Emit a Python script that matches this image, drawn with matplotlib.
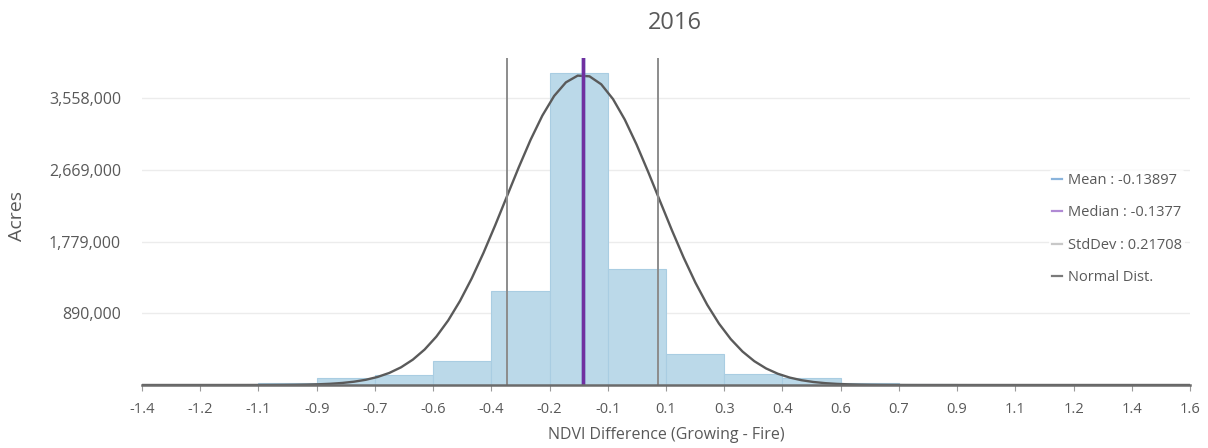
import numpy as np
import matplotlib.pyplot as plt
from matplotlib.lines import Line2D
from matplotlib.ticker import FuncFormatter

plt.rcParams['font.family'] = ['Open Sans', 'DejaVu Sans']

# histogram: 18 equal bins between -1.4 and 1.6
bin_lo, bin_hi, n_bins = -1.4, 1.6, 18
acres = [0, 0, 20000, 87000, 124000, 298000, 1170000, 3872000, 1440000,
         381000, 140000, 90000, 28000, 10000, 3000, 0, 0, 0]

xtick_labels = ['-1.4', '-1.2', '-1.1', '-0.9', '-0.7', '-0.6', '-0.4', '-0.2', '-0.1',
                '0.1', '0.3', '0.4', '0.6', '0.7', '0.9', '1.1', '1.2', '1.4', '1.6']
yticks = [890000, 1779000, 2669000, 3558000]

mean_val = -0.13897
median_val = -0.1377
std_val = 0.21708
curve_peak = 3847000

edges = np.linspace(bin_lo, bin_hi, n_bins + 1)
width = edges[1] - edges[0]

W, H = 1208, 448
fig = plt.figure(figsize=(W / 100, H / 100), dpi=100)
ax = fig.add_axes([142 / W, 63 / H, (1190 - 142) / W, (385 - 58) / H])

txt = '#595959'

ax.bar(edges[:-1], acres, width=width, align='edge', color='#bbd9e9',
       edgecolor='#a9cde2', linewidth=0.8, zorder=2)

# normal distribution scaled to the histogram
xs = np.linspace(bin_lo, bin_hi, 90)
ys = curve_peak * np.exp(-0.5 * ((xs - mean_val) / std_val) ** 2)
ax.plot(xs, ys, color='#5a5a5a', lw=1.7, zorder=4)

ax.axvline(mean_val, color='#5b9bd5', lw=2.5, zorder=5)
ax.axvline(median_val, color='#7030a0', lw=2.5, zorder=6)
ax.axvline(mean_val - std_val, color='#8c8c8c', lw=1.4, zorder=5)
ax.axvline(mean_val + std_val, color='#8c8c8c', lw=1.4, zorder=5)

ax.set_xlim(bin_lo, bin_hi)
ax.set_ylim(0, 4058000)
ax.set_xticks(edges)
ax.set_xticklabels(xtick_labels)
ax.set_yticks(yticks)
ax.yaxis.set_major_formatter(FuncFormatter(lambda v, p: '{:,}'.format(int(v))))

for s in ['top', 'right', 'left']:
    ax.spines[s].set_visible(False)
ax.spines['bottom'].set_color('#6b6b6b')
ax.spines['bottom'].set_linewidth(1.8)
ax.spines['bottom'].set_zorder(7)
ax.tick_params(axis='x', length=4, color='#9a9a9a', labelcolor=txt, labelsize=10.5, pad=8)
ax.tick_params(axis='y', length=0, labelcolor=txt, labelsize=11.5, pad=15)
ax.grid(axis='y', color='#ececec', lw=1, zorder=0)
ax.set_axisbelow(True)

handles = [Line2D([], [], color='#8ab4dc', lw=1.6),
           Line2D([], [], color='#b08ad4', lw=1.6),
           Line2D([], [], color='#c8c8c8', lw=1.6),
           Line2D([], [], color='#7a7a7a', lw=1.6)]
labels = ['Mean : -0.13897', 'Median : -0.1377', 'StdDev : 0.21708', 'Normal Dist.']
leg = ax.legend(handles, labels, loc='upper left', bbox_to_anchor=(1049 / W, 1 - 170 / H),
                bbox_transform=fig.transFigure, frameon=True, fontsize=10.5,
                handlelength=0.7, handletextpad=0.4, labelspacing=1.2,
                borderpad=0.2, borderaxespad=0)
leg.get_frame().set_facecolor('white')
leg.get_frame().set_edgecolor('none')
for t in leg.get_texts():
    t.set_color(txt)
leg.set_zorder(10)

fig.text(675 / W, 1 - 23 / H, '2016', ha='center', va='center', fontsize=17, color=txt)
fig.text(666 / W, 1 - 435 / H, 'NDVI Difference (Growing - Fire)', ha='center', va='center',
         fontsize=11.5, color=txt)
fig.text(17 / W, 1 - 216 / H, 'Acres', ha='center', va='center', rotation=90,
         fontsize=14, color=txt)

fig.savefig('out.png', dpi=100)
